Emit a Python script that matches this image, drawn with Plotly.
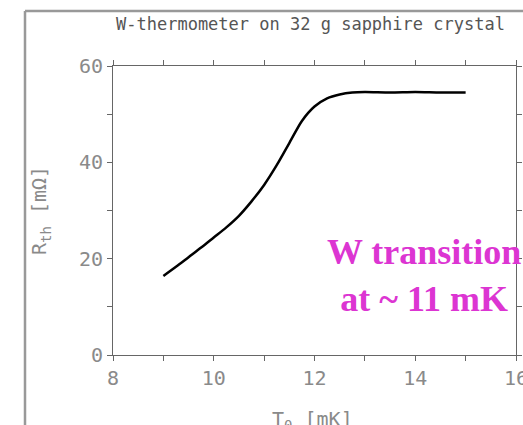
import plotly.graph_objects as go

temp_mK = [9.0, 9.25, 9.5, 9.75, 10.0, 10.25, 10.5, 10.75, 11.0, 11.25, 11.5,
           11.75, 12.0, 12.25, 12.5, 12.75, 13.0, 13.5, 14.0, 14.5, 15.0]
r_th = [16.4, 18.3, 20.3, 22.3, 24.4, 26.5, 28.9, 31.9, 35.3, 39.4, 44.0,
        48.6, 51.6, 53.3, 54.1, 54.5, 54.6, 54.5, 54.6, 54.5, 54.5]

x_ticks = [8, 10, 12, 14, 16]
y_ticks = [0, 20, 40, 60]

title_text = "W-thermometer on 32 g sapphire crystal"
x_title = "T<sub>0</sub> [mK]"
y_title = "R<sub>th</sub> [mΩ]"
note_text = "W transition<br>at ~ 11 mK"

mono = "DejaVu Sans Mono"
gray = "#8a8a8a"

W, H = 523, 425
L, R, T, B = 113, 7, 66, 70
pw, ph = W - L - R, H - T - B

def px(xf):
    return (xf - L) / pw

def py(yf):
    return (H - B - yf) / ph

fig = go.Figure()
fig.add_trace(go.Scatter(x=temp_mK, y=r_th, mode="lines",
                         line=dict(color="black", width=2.5, shape="spline", smoothing=0.8),
                         showlegend=False, hoverinfo="skip"))

axis_common = dict(showgrid=False, zeroline=False, showline=True, linecolor="#666",
                   linewidth=1, mirror="allticks", ticks="outside", ticklen=5,
                   tickcolor="#666", automargin=False, ticklabeloverflow="allow",
                   tickfont=dict(family=mono, size=20, color=gray),
                   minor=dict(ticks="outside", ticklen=5, tickcolor="#666"))

fig.update_xaxes(range=[8, 16], tickvals=x_ticks, ticktext=[str(v) for v in x_ticks],
                 minor_dtick=1, minor_tick0=8, **axis_common)
fig.update_yaxes(range=[0, 60], tickvals=y_ticks, ticktext=[str(v) for v in y_ticks],
                 minor_dtick=10, minor_tick0=0,
                 title=dict(text=y_title, font=dict(family=mono, size=20, color=gray),
                            standoff=26),
                 **axis_common)

fig.add_annotation(text=title_text, xref="paper", yref="paper", x=px(310), y=py(24),
                   showarrow=False, xanchor="center", yanchor="middle",
                   font=dict(family=mono, size=17, color="#555"))

fig.add_annotation(text=x_title, xref="paper", yref="paper", x=px(312), y=py(420),
                   showarrow=False, xanchor="center", yanchor="middle",
                   font=dict(family=mono, size=20, color=gray))

fig.add_annotation(text=note_text, xref="x", yref="y", x=14.17, y=16.5,
                   showarrow=False, xanchor="center", yanchor="middle",
                   font=dict(family="Liberation Serif", size=36, color="#DC35D2",
                             weight="bold"))

# outer frame lines (left and top)
fig.add_shape(type="line", xref="paper", yref="paper", x0=px(25), x1=px(25),
              y0=py(11), y1=py(H + 10), line=dict(color="#999", width=2.5))
fig.add_shape(type="line", xref="paper", yref="paper", x0=px(25), x1=px(W + 10),
              y0=py(11), y1=py(11), line=dict(color="#999", width=2.5))

fig.update_layout(width=W, height=H, autosize=False,
                  margin=dict(l=L, r=R, t=T, b=B, autoexpand=False),
                  plot_bgcolor="white", paper_bgcolor="white")

fig.write_html("out.html", config={"displayModeBar": False},
               post_script="document.body.style.margin='0';document.body.style.overflow='hidden';")
